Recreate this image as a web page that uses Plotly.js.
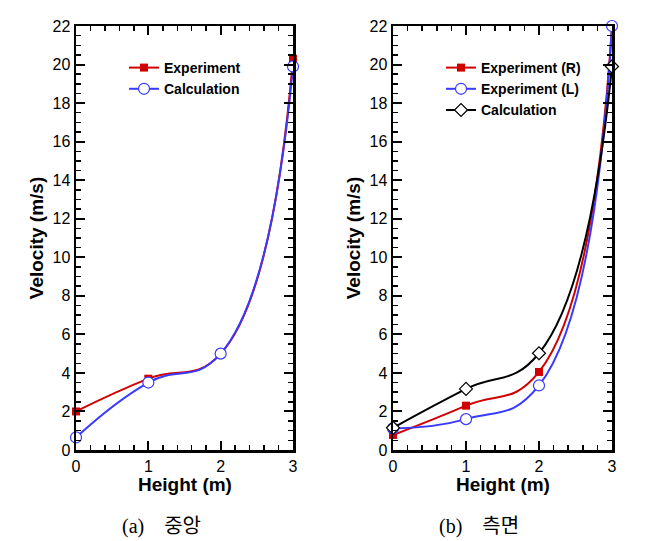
<!DOCTYPE html>
<html>
<head>
<meta charset="utf-8">
<script src="https://cdn.plot.ly/plotly-3.0.1.min.js"></script>
<style>html,body{margin:0;padding:0;background:#fff;}#chart{width:652px;height:541px;}</style>
</head>
<body>
<div id="chart"></div>
<script>
// Heights (m)
const heights = [0, 1, 2, 3];
// (a) centre
const centerExperiment = [2.0, 3.7, 5.0, 20.3];
const centerCalculation = [0.65, 3.5, 5.0, 19.9];
// (b) side
const sideExperimentR = [0.78, 2.3, 4.05, 22.0];
const sideExperimentL = [1.12, 1.6, 3.35, 22.0];
const sideCalculation = [1.15, 3.17, 5.02, 19.9];
const xTicks = [0, 1, 2, 3];
const yTicks = [0, 2, 4, 6, 8, 10, 12, 14, 16, 18, 20, 22];
const xTitle = 'Height (m)';
const yTitle = 'Velocity (m/s)';
const captionA = '(a)\u2003중앙';
const captionB = '(b)\u2003측면';

const RED = '#d00000', BLUE = '#3a3aff', BLACK = '#000000';
const lineBase = {shape: 'spline', smoothing: 1.3, width: 2};

const traces = [
  {x: heights, y: centerExperiment, name: 'Experiment', mode: 'lines+markers', xaxis: 'x', yaxis: 'y', legend: 'legend', cliponaxis: false,
   line: Object.assign({color: RED}, lineBase), marker: {symbol: 'square', size: 8, color: RED}},
  {x: heights, y: centerCalculation, name: 'Calculation', mode: 'lines+markers', xaxis: 'x', yaxis: 'y', legend: 'legend', cliponaxis: false,
   line: Object.assign({color: BLUE}, lineBase), marker: {symbol: 'circle', size: 11, color: '#ffffff', line: {color: BLUE, width: 1.2}}},
  {x: heights, y: sideExperimentR, name: 'Experiment (R)', mode: 'lines+markers', xaxis: 'x2', yaxis: 'y2', legend: 'legend2', cliponaxis: false,
   line: Object.assign({color: RED}, lineBase), marker: {symbol: 'square', size: 8, color: RED}},
  {x: heights, y: sideExperimentL, name: 'Experiment (L)', mode: 'lines+markers', xaxis: 'x2', yaxis: 'y2', legend: 'legend2', cliponaxis: false,
   line: Object.assign({color: BLUE}, lineBase), marker: {symbol: 'circle', size: 11, color: '#ffffff', line: {color: BLUE, width: 1.2}}},
  {x: heights, y: sideCalculation, name: 'Calculation', mode: 'lines+markers', xaxis: 'x2', yaxis: 'y2', legend: 'legend2', cliponaxis: false,
   line: Object.assign({color: BLACK}, lineBase), marker: {symbol: 'diamond', size: 10, color: '#ffffff', line: {color: BLACK, width: 1.2}}}
];

const tickFont = {family: 'Liberation Sans, Arial, sans-serif', size: 16, color: '#000'};
const titleFont = {family: 'Liberation Sans, Arial, sans-serif', size: 19, color: '#000', weight: 'bold'};

function xAxis(domain, anchor) {
  return {domain: domain, anchor: anchor, range: [0, 3], tickvals: xTicks, ticktext: xTicks.map(String),
    ticks: 'inside', ticklen: 9, tickwidth: 2, tickcolor: '#000',
    minor: {dtick: 0.2, tick0: 0, ticks: 'inside', ticklen: 5, tickwidth: 1.5, tickcolor: '#000', showgrid: false},
    showline: true, linewidth: 2.5, linecolor: '#000', mirror: 'ticks', showgrid: false, zeroline: false,
    tickfont: tickFont};
}
function yAxis(domain, anchor) {
  return {domain: domain, anchor: anchor, range: [0, 22], tickvals: yTicks, ticktext: yTicks.map(String),
    ticks: 'inside', ticklen: 9, tickwidth: 2, tickcolor: '#000',
    minor: {dtick: 0.5, tick0: 0, ticks: 'inside', ticklen: 5, tickwidth: 1.5, tickcolor: '#000', showgrid: false},
    showline: true, linewidth: 2.5, linecolor: '#000', mirror: 'ticks', showgrid: false, zeroline: false,
    tickfont: tickFont, title: {text: yTitle, font: titleFont, standoff: 4}};
}

const W = 652, H = 541;
const yDom = [(H - 450) / H, (H - 26) / H];
const legendFont = {family: 'Liberation Sans, Arial, sans-serif', size: 14, color: '#000', weight: 'bold'};
const captionFont = {family: 'Liberation Serif, Noto Sans CJK KR, serif', size: 20, color: '#000'};

const layout = {
  width: W, height: H,
  margin: {l: 0, r: 0, t: 0, b: 0},
  paper_bgcolor: '#fff', plot_bgcolor: '#fff',
  xaxis: xAxis([76 / W, 293 / W], 'y'),
  yaxis: yAxis(yDom, 'x'),
  xaxis2: xAxis([393 / W, 612 / W], 'y2'),
  yaxis2: yAxis(yDom, 'x2'),
  showlegend: true,
  legend: {x: 124 / W, y: (H - 52) / H, xanchor: 'left', yanchor: 'top', bgcolor: 'rgba(0,0,0,0)', borderwidth: 0,
    font: legendFont, itemwidth: 30, tracegroupgap: 0},
  legend2: {x: 441 / W, y: (H - 52) / H, xanchor: 'left', yanchor: 'top', bgcolor: 'rgba(0,0,0,0)', borderwidth: 0,
    font: legendFont, itemwidth: 30, tracegroupgap: 0},
  annotations: [
    {text: xTitle, xref: 'x domain', yref: 'paper', x: 0.5, y: (H - 484) / H, xanchor: 'center', yanchor: 'middle', showarrow: false, borderpad: 0, font: titleFont},
    {text: xTitle, xref: 'x2 domain', yref: 'paper', x: 0.5, y: (H - 484) / H, xanchor: 'center', yanchor: 'middle', showarrow: false, borderpad: 0, font: titleFont},
    {text: captionA, xref: 'paper', yref: 'paper', x: 161 / W, y: (H - 526) / H, xanchor: 'center', yanchor: 'middle', showarrow: false, font: captionFont},
    {text: captionB, xref: 'paper', yref: 'paper', x: 479 / W, y: (H - 526) / H, xanchor: 'center', yanchor: 'middle', showarrow: false, font: captionFont}
  ]
};

Plotly.newPlot('chart', traces, layout, {displayModeBar: false, staticPlot: true});
</script>
</body>
</html>
